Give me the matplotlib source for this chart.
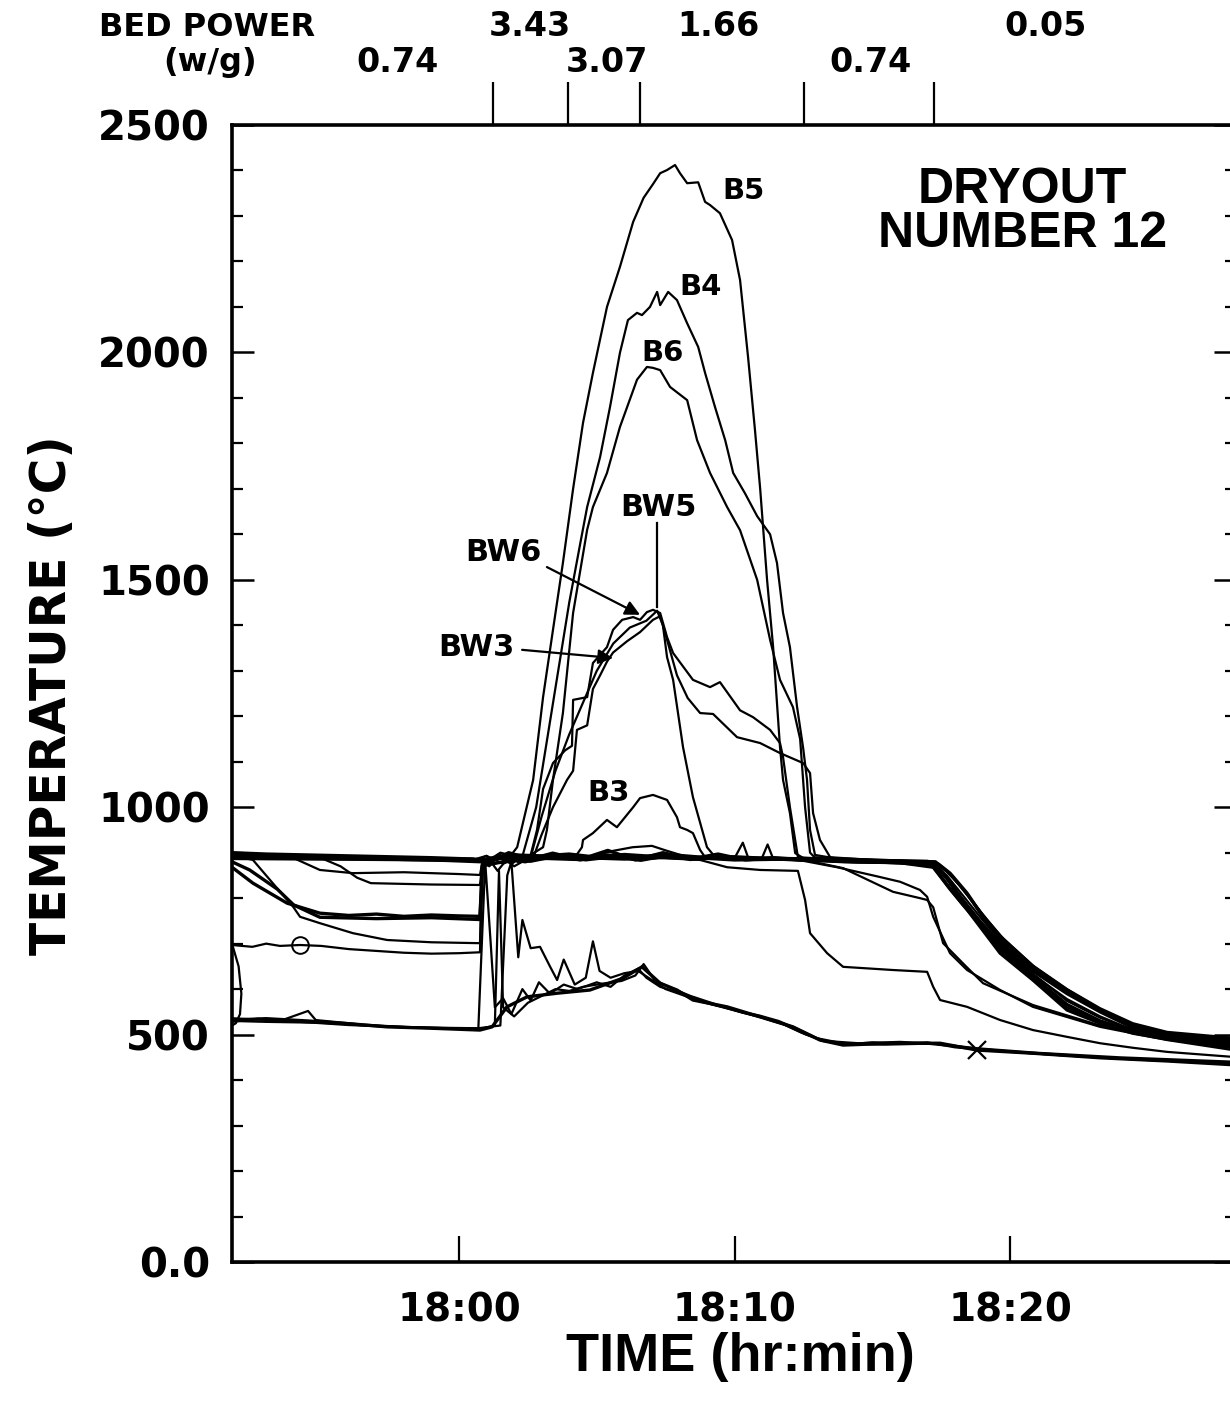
import matplotlib
matplotlib.use('Agg')
import matplotlib.pyplot as plt
from matplotlib.ticker import MultipleLocator, FixedLocator

# Dryout number 12: thermocouple traces, time in minutes after 18:00, temperature in deg C

# upper bundle (saturation level ~890 C)
t_u1 = [-8.24, -7.0, -5.5, -4.0, -2.5, -1.0, 0.5, 0.9, 1.3, 2.0, 3.0, 4.0, 5.0, 6.0, 7.0, 8.0, 9.0, 10.0,
        11.0, 12.0, 13.0, 14.0, 15.0, 16.0, 17.0, 17.4, 17.82, 18.44, 19.02, 19.64, 20.25, 20.83, 22.07,
        23.27, 24.46, 25.70, 27.0, 28.3]
temp_u1 = [900, 897, 895, 893, 891, 889, 886, 884, 890, 895, 893, 897, 890, 896, 892, 894, 889, 891,
           888, 887, 886, 884, 883, 882, 881, 875, 855, 811, 759, 715, 679, 649, 598,
           554, 521, 503, 494, 488]

t_u2 = [-8.24, -6.5, -5.0, -3.5, -2.0, -0.5, 0.8, 1.1, 1.8, 2.6, 3.4, 4.4, 5.4, 6.4, 7.4, 8.4, 9.4, 10.4,
        11.4, 12.4, 13.4, 14.5, 15.5, 16.5, 17.21, 17.64, 18.19, 18.91, 19.64, 20.83, 22.07, 23.27,
        24.46, 25.70, 28.3]
temp_u2 = [896, 893, 891, 888, 885, 883, 880, 878, 900, 886, 899, 885, 905, 884, 900, 886, 897, 884,
           889, 885, 883, 880, 879, 878, 876, 850, 800, 745, 700, 640, 590, 550,
           515, 497, 480]

t_spk = [-8.24, -4.0, 0.5, 1.0, 1.5, 2.5, 3.5, 4.5, 5.5, 6.3, 7.0, 7.5, 8.2, 9.0, 10.0, 10.3, 10.5, 11.0,
         11.2, 11.4, 12.5, 14.0, 16.0, 17.28, 17.82, 18.44, 19.02, 19.64, 20.25, 20.83, 22.07, 23.27,
         24.46, 25.7, 28.3]
temp_spk = [894, 890, 887, 880, 900, 885, 895, 885, 903, 912, 915, 905, 892, 890, 888, 922, 888, 889,
            918, 887, 885, 883, 881, 879, 853, 808, 757, 712, 677, 647, 597, 553,
            521, 503, 489]

# traces that sag before the power step, then rejoin the bundle at 18:01
t_gb1 = [-8.24, -7.0, -6.0, -5.05, -3.85, -2.0, 0.0, 0.76, 0.85, 1.5, 2.5, 3.5, 4.5, 5.5, 6.5, 7.5, 8.5,
         9.5, 10.5, 11.5, 12.5, 13.72, 15.17, 16.01, 16.73, 16.99, 17.21, 17.82, 18.44, 19.64, 20.83,
         23.27, 25.70, 28.3]
temp_gb1 = [897, 893, 888, 862, 855, 857, 853, 851, 880, 893, 884, 896, 887, 893, 884, 890, 886,
            888, 884, 885, 882, 868, 848, 836, 818, 803, 759, 679, 642, 598, 561,
            517, 488, 464]

t_gb2 = [-8.24, -5.0, -4.3, -3.7, -3.2, -1.0, 0.76, 0.85, 1.6, 2.6, 3.6, 4.6, 5.6, 6.6, 7.6, 8.6, 9.6,
         10.6, 11.6, 12.6, 13.94, 15.75, 16.73, 16.99, 17.21, 17.57, 18.4, 19.02, 20.83, 23.27, 25.70, 28.3]
temp_gb2 = [897, 888, 870, 845, 833, 830, 829, 878, 889, 880, 892, 883, 890, 882, 893, 885, 889,
            884, 886, 883, 866, 814, 800, 796, 780, 701, 650, 613, 565, 520, 490, 468]

t_gb3 = [-8.24, -7.48, -6.24, -5.05, -4.0, -3.0, -2.0, -1.0, 0.0, 0.76, 0.85, 1.4, 2.4, 3.4, 4.4, 5.4,
         6.4, 7.4, 8.4, 9.4, 10.4, 11.4, 12.4, 13.4, 14.4, 15.4, 16.4, 17.21, 17.82, 18.44, 19.64,
         20.83, 22.07, 23.27, 24.46, 25.70, 28.3]
temp_gb3 = [868, 833, 789, 767, 762, 765, 760, 763, 761, 760, 875, 888, 880, 893, 884, 895,
            888, 897, 885, 893, 887, 888, 884, 882, 880, 879, 876, 870, 820, 775, 679,
            620, 554, 525, 503, 490, 471]

t_gb3b = [-8.24, -7.6, -6.6, -6.0, -5.05, -3.0, -1.0, 0.76, 0.85, 2.0, 4.0, 6.0, 8.0, 10.0, 12.0, 14.0,
          16.0, 17.21, 17.7, 18.3, 19.64, 20.83, 22.07, 23.27, 24.46, 25.7, 28.3]
temp_gb3b = [880, 862, 820, 785, 758, 755, 757, 753, 872, 884, 890, 886, 891, 884, 886, 880,
             878, 868, 830, 785, 690, 628, 566, 530, 508, 494, 476]

t_gb4 = [-8.24, -7.48, -6.86, -6.02, -5.77, -5.05, -3.85, -2.61, -1.0, 0.76, 0.85, 2.2, 4.2, 6.2, 8.2,
         10.2, 12.2, 14.2, 16.2, 17.25, 17.75, 18.35, 19.64, 20.83, 22.07, 23.27, 24.46, 25.7, 28.3]
temp_gb4 = [895, 884, 840, 781, 759, 745, 723, 708, 703, 701, 870, 888, 884, 893, 886,
            890, 885, 881, 879, 873, 838, 792, 697, 634, 574, 537, 510, 494, 476]

# trace with the circle marker; leaves the bundle and drops at 18:12
t_gc = [-8.24, -7.5, -7.0, -6.5, -5.77, -5.0, -4.0, -3.0, -2.0, -1.0, 0.0, 0.76, 0.85, 2.0, 4.0, 6.0,
        8.75, 9.73, 10.93, 12.3, 12.56, 12.74, 13.36, 13.94, 15.75, 16.99, 17.21, 17.46, 18.44, 19.64,
        20.83, 22.07, 23.27, 24.46, 25.7, 28.3]
temp_gc = [697, 693, 700, 695, 697, 695, 688, 684, 680, 678, 679, 681, 884, 890, 886, 892,
           884, 868, 862, 860, 796, 723, 679, 649, 642, 638, 605, 576, 561, 532,
           510, 495, 481, 471, 462, 450]

# lower bundle (~520 C)
t_l1 = [-8.24, -7.0, -5.5, -4.0, -2.61, -1.0, 0.76, 1.2, 1.74, 2.47, 3.56, 4.75, 5.95, 6.64, 7.3, 7.91,
        8.49, 9.73, 10.93, 12.12, 13.1, 13.94, 15.75, 17.46, 18.8, 20.83, 23.27, 25.7, 28.3]
temp_l1 = [532, 535, 530, 524, 517, 514, 510, 517, 561, 583, 591, 598, 624, 649, 613, 598,
           576, 561, 539, 517, 488, 477, 481, 481, 466, 459, 449, 442, 433]

t_l2 = [-8.24, -7.3, -6.5, -5.48, -5.2, -3.5, -1.5, 0.7, 0.95, 1.15, 1.3, 1.6, 1.9, 2.3, 2.6, 2.9, 3.3,
        3.8, 4.3, 5.0, 5.5, 6.0, 6.5, 6.8, 7.3, 8.0, 8.8, 9.6, 10.3, 11.0, 11.7, 12.4, 13.2, 14.0, 15.0,
        16.0, 17.0, 18.0, 20.0, 22.0, 25.0, 28.3]
temp_l2 = [528, 535, 530, 552, 532, 522, 515, 512, 880, 700, 560, 580, 545, 600, 575, 615, 590,
           610, 600, 615, 605, 630, 645, 625, 605, 592, 572, 560, 548, 538, 525, 505, 486, 478, 483,
           480, 483, 472, 462, 454, 444, 436]

t_l3 = [-8.24, -6.0, -4.0, -2.0, 0.7, 1.5, 1.75, 1.9, 2.15, 2.3, 2.6, 2.94, 3.3, 3.56, 3.8, 4.2, 4.6,
        4.86, 5.1, 5.5, 6.0, 6.5, 7.0, 7.5, 8.3, 9.2, 10.1, 10.9, 11.6, 12.3, 13.0, 14.0, 15.5, 17.0,
        19.0, 21.0, 24.0, 28.3]
temp_l3 = [536, 529, 521, 516, 514, 520, 850, 880, 670, 752, 690, 693, 650, 620, 665, 610, 625,
           705, 640, 625, 635, 640, 620, 600, 583, 566, 552, 542, 530, 512, 492, 480, 478, 480,
           468, 458, 447, 438]

t_l4 = [-8.24, -7.0, -5.0, -3.0, -1.0, 0.8, 1.3, 1.45, 1.6, 2.0, 2.5, 3.0, 3.5, 4.0, 4.5, 5.2, 5.9, 6.4,
        6.7, 7.1, 7.6, 8.4, 9.3, 10.2, 11.0, 11.8, 12.6, 13.3, 14.5, 16.0, 17.3, 18.8, 21.0, 24.0, 28.3]
temp_l4 = [530, 528, 526, 519, 515, 513, 520, 860, 560, 540, 570, 585, 600, 596, 605, 612, 618, 630,
           655, 620, 605, 585, 567, 550, 537, 522, 500, 486, 481, 484, 480, 470, 460, 450, 440]

t_l5 = [-8.24, -8.0, -7.9, -7.95, -8.1, -8.24]
temp_l5 = [700, 650, 590, 545, 525, 520]

# labelled traces
t_b5 = [-8.24, -6.0, -3.5, -1.0, 0.8, 1.1, 1.4, 1.7, 2.11, 2.69, 3.05, 3.41, 3.77, 4.14, 4.5, 4.86, 5.37,
        5.84, 6.32, 6.7, 7.04, 7.3, 7.55, 7.84, 8.02, 8.28, 8.68, 8.93, 9.11, 9.47, 9.91, 10.2, 10.49,
        10.74, 10.93, 11.18, 11.4, 11.65, 11.76, 12.01, 12.2, 12.5, 13.5, 15.0, 16.5, 17.3, 17.9, 18.5,
        19.1, 19.7, 20.3, 20.9, 22.1, 23.3, 24.5, 25.7, 28.3]
temp_b5 = [895, 892, 890, 888, 884, 870, 895, 880, 912, 1060, 1242, 1390, 1537, 1700, 1845, 1955, 2100,
           2188, 2287, 2340, 2370, 2394, 2401, 2412, 2394, 2372, 2374, 2331, 2324, 2306, 2247, 2159, 1990,
           1830, 1700, 1500, 1352, 1132, 1060, 987, 899, 888, 886, 884, 882, 881, 850, 805,
           755, 712, 676, 646, 597, 553, 522, 504, 490]

t_b4 = [-8.24, -5.5, -2.5, 0.5, 1.0, 1.5, 1.9, 2.3, 2.8, 3.2, 3.6, 4.0, 4.4, 4.65, 5.12, 5.48, 5.84, 6.13,
        6.46, 6.64, 6.93, 7.19, 7.3, 7.59, 7.91, 8.28, 8.68, 8.93, 9.29, 9.66, 9.95, 10.38, 10.82, 11.29,
        11.54, 11.76, 12.01, 12.27, 12.49, 12.63, 12.74, 12.92, 14.0, 15.5, 17.25, 17.7, 18.3, 19.0,
        19.64, 20.83, 22.07, 23.27, 24.46, 25.7, 28.3]
temp_b4 = [892, 889, 887, 885, 880, 890, 875, 892, 1000, 1150, 1300, 1450, 1580, 1660, 1770, 1880, 1999,
           2071, 2087, 2082, 2100, 2133, 2104, 2133, 2115, 2064, 2012, 1955, 1880, 1807, 1735, 1690, 1640,
           1600, 1537, 1427, 1352, 1220, 1130, 1060, 950, 895, 884, 882, 880, 858, 820, 765,
           718, 652, 600, 558, 525, 506, 492]

t_b6 = [-8.24, -5.0, -2.0, 0.6, 1.0, 1.4, 1.8, 2.2, 2.6, 3.05, 3.19, 3.41, 3.77, 4.14, 4.65, 4.86, 5.37,
        5.84, 6.46, 6.82, 7.04, 7.3, 7.66, 8.28, 8.64, 9.11, 9.73, 10.2, 10.82, 11.29, 11.65, 12.12,
        12.38, 12.56, 12.74, 12.9, 14.5, 16.0, 17.2, 17.6, 18.2, 18.9, 19.64, 20.83, 22.07, 23.27,
        24.46, 25.7, 28.3]
temp_b6 = [890, 888, 886, 883, 893, 860, 890, 878, 895, 912, 950, 1060, 1207, 1427, 1610, 1660, 1735,
           1836, 1940, 1968, 1966, 1961, 1924, 1895, 1807, 1735, 1660, 1609, 1500, 1368, 1280, 1220,
           1150, 1000, 900, 890, 886, 883, 878, 852, 805, 750, 705, 645, 594, 552,
           518, 500, 485]

t_bw6 = [-8.24, -4.0, 0.5, 1.0, 1.5, 2.0, 2.58, 2.83, 3.05, 3.41, 3.85, 4.10, 4.14, 4.65, 4.86, 5.37, 5.59,
         5.92, 6.32, 6.57, 6.82, 7.04, 7.30, 7.55, 7.77, 8.49, 9.11, 9.47, 10.2, 10.67, 11.29, 11.65,
         11.76, 12.01, 12.3, 14.0, 16.0, 17.21, 17.82, 18.44, 19.64, 20.83, 22.07, 23.27, 24.46, 25.7, 28.3]
temp_bw6 = [888, 886, 884, 878, 895, 870, 890, 950, 1040, 1097, 1125, 1135, 1236, 1242, 1317, 1352, 1390,
            1412, 1418, 1412, 1429, 1434, 1427, 1374, 1339, 1280, 1264, 1275, 1213, 1198, 1170, 1141,
            1110, 1000, 890, 884, 880, 872, 822, 778, 685, 625, 560, 528, 506, 492, 475]

t_bw3 = [-8.24, -3.0, 0.6, 1.0, 1.6, 2.2, 2.7, 3.0, 3.41, 3.92, 4.14, 4.28, 4.65, 4.86, 5.12, 5.37, 5.59,
         6.1, 6.57, 7.04, 7.3, 7.55, 7.91, 8.3, 8.75, 9.22, 10.09, 10.93, 11.65, 12.49, 12.74, 12.85,
         13.1, 13.47, 15.0, 17.3, 17.7, 18.3, 19.0, 19.64, 20.83, 22.07, 23.27, 24.46, 25.7, 28.3]
temp_bw3 = [892, 889, 886, 893, 876, 889, 890, 940, 1000, 1060, 1080, 1170, 1180, 1260, 1290, 1320, 1340,
            1365, 1385, 1412, 1420, 1368, 1290, 1240, 1207, 1205, 1154, 1141, 1119, 1097, 1075, 987,
            928, 890, 884, 875, 845, 795, 740, 695, 632, 578, 540, 510, 495, 478]

t_bw5 = [-8.24, -2.0, 0.8, 1.3, 2.0, 2.6, 3.0, 3.5, 4.0, 4.5, 5.0, 5.6, 6.2, 6.8, 7.19, 7.4, 7.55, 7.77,
         8.13, 8.49, 9.0, 9.3, 11.0, 13.0, 15.0, 17.3, 17.9, 18.5, 19.2, 19.8, 20.9, 22.1, 23.3, 24.5,
         25.7, 28.3]
temp_bw5 = [891, 887, 885, 890, 885, 890, 980, 1080, 1160, 1230, 1300, 1360, 1395, 1410, 1432, 1400, 1330,
            1280, 1132, 1022, 912, 890, 887, 884, 882, 880, 848, 802, 750, 708, 648, 596, 554, 521,
            503, 488]

t_b3 = [-8.24, -3.0, 0.7, 1.2, 2.5, 3.5, 4.21, 4.46, 4.5, 4.86, 5.37, 5.73, 6.32, 6.57, 7.04, 7.55, 7.91,
        8.02, 8.28, 8.49, 8.75, 8.93, 11.0, 14.0, 17.2, 17.7, 18.3, 19.0, 19.64, 20.83, 22.07, 23.27,
        24.46, 25.7, 28.3]
temp_b3 = [886, 884, 882, 888, 884, 893, 890, 912, 928, 943, 972, 956, 1000, 1020, 1027, 1016, 978,
           956, 950, 943, 906, 890, 888, 884, 877, 850, 805, 752, 708, 645, 592, 552,
           519, 500, 484]

# bed power steps (w/g)
power_step_times = [1.22, 3.95, 6.58, 12.52, 17.25]
power_upper = ['3.43', '1.66', '0.05']
power_lower = ['0.74', '3.07', '0.74']

temp_ticks = [0, 500, 1000, 1500, 2000, 2500]
temp_tick_labels = ['0.0', '500', '1000', '1500', '2000', '2500']
time_ticks = [0, 10, 20]
time_tick_labels = ['18:00', '18:10', '18:20']

bold_curves = [(t_u1, temp_u1), (t_u2, temp_u2), (t_l1, temp_l1), (t_gb3, temp_gb3), (t_gb3b, temp_gb3b)]
thin_curves = [(t_spk, temp_spk), (t_gb1, temp_gb1), (t_gb2, temp_gb2), (t_gb4, temp_gb4),
               (t_gc, temp_gc), (t_l2, temp_l2), (t_l3, temp_l3), (t_l4, temp_l4), (t_l5, temp_l5),
               (t_b5, temp_b5), (t_b4, temp_b4), (t_b6, temp_b6), (t_bw6, temp_bw6),
               (t_bw3, temp_bw3), (t_bw5, temp_bw5), (t_b3, temp_b3)]

plt.rcParams['font.family'] = 'DejaVu Sans'
plt.rcParams['font.weight'] = 'bold'

fig = plt.figure(figsize=(12.3, 14.03), dpi=100)
ax = fig.add_axes([232 / 1230, 141 / 1403, 1004 / 1230, 1137 / 1403])

for t, temp in bold_curves:
    ax.plot(t, temp, color='k', lw=2.4, solid_joinstyle='round')
for t, temp in thin_curves:
    ax.plot(t, temp, color='k', lw=1.6, solid_joinstyle='round')

# markers on two traces
i_circ = t_gc.index(-5.77)
i_cross = t_l1.index(18.8)
ax.plot(t_gc[i_circ], temp_gc[i_circ], 'o', ms=12, mfc='none', mec='k', mew=1.4)
ax.plot(t_l1[i_cross], temp_l1[i_cross], 'x', ms=13, mec='k', mew=1.6)

ax.set_xlim(-8.24, 28.2)
ax.set_ylim(0, 2500)

ax.xaxis.set_major_locator(FixedLocator(time_ticks))
ax.set_xticklabels(time_tick_labels)
ax.yaxis.set_major_locator(FixedLocator(temp_ticks))
ax.set_yticklabels(temp_tick_labels)
ax.yaxis.set_minor_locator(MultipleLocator(100))

ax.tick_params(axis='x', which='major', direction='in', top=True, bottom=True,
               length=19, width=1.6, pad=21, labelsize=28)
ax.tick_params(axis='y', which='major', direction='in', left=True, right=True,
               length=16, width=1.8, pad=16, labelsize=29)
ax.tick_params(axis='y', which='minor', direction='in', left=True, right=True,
               length=8, width=1.6)
for s in ax.spines.values():
    s.set_linewidth(2.6)

# bed power step marks above the frame
ax2 = ax.twiny()
ax2.set_xlim(ax.get_xlim())
ax2.set_xticks(power_step_times)
ax2.set_xticklabels([])
ax2.tick_params(axis='x', direction='out', length=31, width=1.6)
for s in ax2.spines.values():
    s.set_visible(False)

trans = ax.get_xaxis_transform()
upper_x = [2.58, 9.40, 21.27]
lower_x = [-2.25, 5.37, 14.92]
for x, lab in zip(upper_x, power_upper):
    ax.text(x, 1.0862, lab, transform=trans, ha='center', va='center', fontsize=24, clip_on=False)
for x, lab in zip(lower_x, power_lower):
    ax.text(x, 1.0554, lab, transform=trans, ha='center', va='center', fontsize=24, clip_on=False)
fig.text(207 / 1230, 1 - 27 / 1403, 'BED POWER', ha='center', va='center', fontsize=23, fontweight='bold')
fig.text(210 / 1230, 1 - 62 / 1403, '(w/g)', ha='center', va='center', fontsize=23, fontweight='bold')

# curve labels
ax.text(10.31, 2355, 'B5', ha='center', va='center', fontsize=21)
ax.text(8.78, 2144, 'B4', ha='center', va='center', fontsize=21)
ax.text(7.40, 1999, 'B6', ha='center', va='center', fontsize=21)
ax.text(7.22, 1658, 'BW5', ha='center', va='center', fontsize=22)
ax.text(1.60, 1559, 'BW6', ha='center', va='center', fontsize=22)
ax.text(0.62, 1352, 'BW3', ha='center', va='center', fontsize=22)
ax.text(5.44, 1031, 'B3', ha='center', va='center', fontsize=21)

arrow = dict(arrowstyle='-|>', color='k', lw=1.6, mutation_scale=22, shrinkA=0, shrinkB=0)
ax.annotate('', xy=(6.57, 1423), xytext=(3.19, 1528), arrowprops=arrow)
ax.annotate('', xy=(5.59, 1328), xytext=(2.29, 1346), arrowprops=arrow)
ax.plot([7.19, 7.19], [1625, 1440], color='k', lw=1.6)

ax.text(20.44, 2309, 'DRYOUT\nNUMBER 12', ha='center', va='center', fontsize=36,
        fontfamily='Liberation Sans', fontweight='bold', linespacing=0.95)

fig.text(52 / 1230, 1 - 695 / 1403, 'TEMPERATURE (°C)', rotation=90, ha='center', va='center',
         fontsize=35, fontweight='bold')
fig.text(740 / 1230, 1 - 1357 / 1403, 'TIME (hr:min)', ha='center', va='center', fontsize=39,
         fontfamily='Liberation Sans', fontweight='bold')

fig.savefig('out.png', dpi=100)
